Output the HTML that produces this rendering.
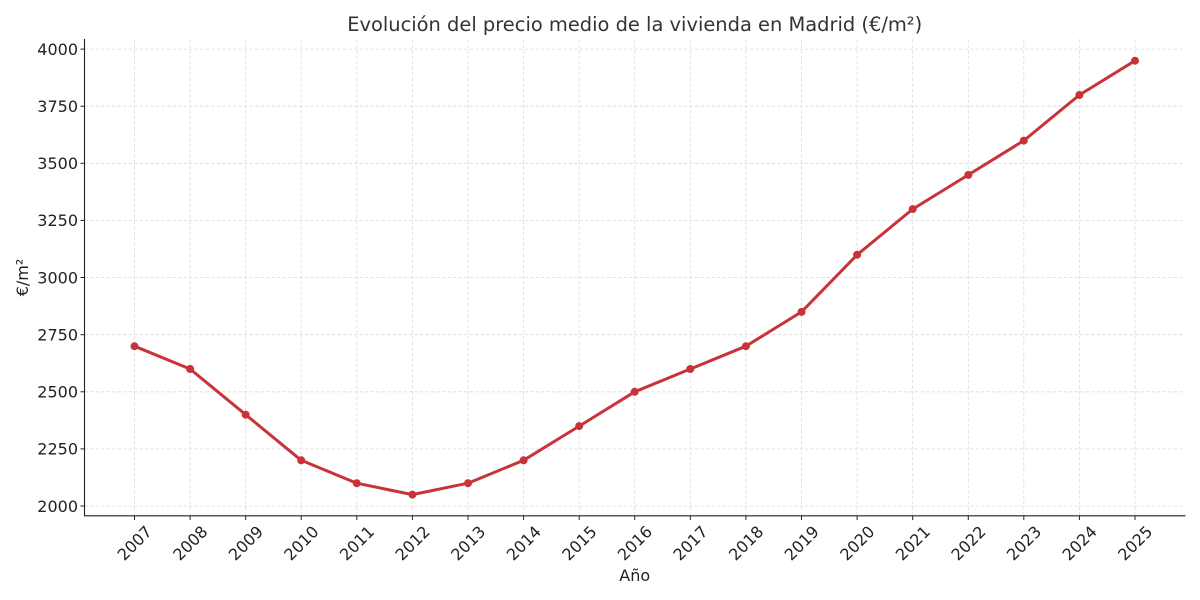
<!DOCTYPE html>
<html><head><meta charset="utf-8"><style>
html,body{margin:0;padding:0;background:#fff;}
svg{display:block;}
text{font-family:"DejaVu Sans","Liberation Sans",sans-serif;}
</style></head><body>
<svg width="1200" height="600" viewBox="0 0 1200 600" xmlns="http://www.w3.org/2000/svg">
<rect width="1200" height="600" fill="#fff"/>
<g stroke="#dcdcdc" stroke-width="0.8" stroke-dasharray="3.5,2" fill="none">
<line x1="84.5" x2="1185" y1="506" y2="506"/>
<line x1="84.5" x2="1185" y1="448.9" y2="448.9"/>
<line x1="84.5" x2="1185" y1="391.8" y2="391.8"/>
<line x1="84.5" x2="1185" y1="334.7" y2="334.7"/>
<line x1="84.5" x2="1185" y1="277.5" y2="277.5"/>
<line x1="84.5" x2="1185" y1="220.4" y2="220.4"/>
<line x1="84.5" x2="1185" y1="163.3" y2="163.3"/>
<line x1="84.5" x2="1185" y1="106.2" y2="106.2"/>
<line x1="84.5" x2="1185" y1="49.1" y2="49.1"/>
<line y1="39" y2="516" x1="134.5" x2="134.5"/>
<line y1="39" y2="516" x1="190.1" x2="190.1"/>
<line y1="39" y2="516" x1="245.7" x2="245.7"/>
<line y1="39" y2="516" x1="301.2" x2="301.2"/>
<line y1="39" y2="516" x1="356.8" x2="356.8"/>
<line y1="39" y2="516" x1="412.4" x2="412.4"/>
<line y1="39" y2="516" x1="468.0" x2="468.0"/>
<line y1="39" y2="516" x1="523.6" x2="523.6"/>
<line y1="39" y2="516" x1="579.2" x2="579.2"/>
<line y1="39" y2="516" x1="634.7" x2="634.7"/>
<line y1="39" y2="516" x1="690.3" x2="690.3"/>
<line y1="39" y2="516" x1="745.9" x2="745.9"/>
<line y1="39" y2="516" x1="801.5" x2="801.5"/>
<line y1="39" y2="516" x1="857.1" x2="857.1"/>
<line y1="39" y2="516" x1="912.7" x2="912.7"/>
<line y1="39" y2="516" x1="968.3" x2="968.3"/>
<line y1="39" y2="516" x1="1023.8" x2="1023.8"/>
<line y1="39" y2="516" x1="1079.4" x2="1079.4"/>
<line y1="39" y2="516" x1="1135.0" x2="1135.0"/>
</g>
<!-- spines -->
<g stroke="#222" stroke-width="1.1" fill="none">
<line x1="84.5" y1="39" x2="84.5" y2="516"/>
<line x1="84" y1="515.8" x2="1185.5" y2="515.8"/>
</g>
<!-- ticks -->
<g stroke="#222" stroke-width="1">
<line x1="80.5" x2="84.5" y1="506" y2="506"/>
<line x1="80.5" x2="84.5" y1="448.9" y2="448.9"/>
<line x1="80.5" x2="84.5" y1="391.8" y2="391.8"/>
<line x1="80.5" x2="84.5" y1="334.7" y2="334.7"/>
<line x1="80.5" x2="84.5" y1="277.5" y2="277.5"/>
<line x1="80.5" x2="84.5" y1="220.4" y2="220.4"/>
<line x1="80.5" x2="84.5" y1="163.3" y2="163.3"/>
<line x1="80.5" x2="84.5" y1="106.2" y2="106.2"/>
<line x1="80.5" x2="84.5" y1="49.1" y2="49.1"/>
<line y1="516" y2="520" x1="134.5" x2="134.5"/>
<line y1="516" y2="520" x1="190.1" x2="190.1"/>
<line y1="516" y2="520" x1="245.7" x2="245.7"/>
<line y1="516" y2="520" x1="301.2" x2="301.2"/>
<line y1="516" y2="520" x1="356.8" x2="356.8"/>
<line y1="516" y2="520" x1="412.4" x2="412.4"/>
<line y1="516" y2="520" x1="468.0" x2="468.0"/>
<line y1="516" y2="520" x1="523.6" x2="523.6"/>
<line y1="516" y2="520" x1="579.2" x2="579.2"/>
<line y1="516" y2="520" x1="634.7" x2="634.7"/>
<line y1="516" y2="520" x1="690.3" x2="690.3"/>
<line y1="516" y2="520" x1="745.9" x2="745.9"/>
<line y1="516" y2="520" x1="801.5" x2="801.5"/>
<line y1="516" y2="520" x1="857.1" x2="857.1"/>
<line y1="516" y2="520" x1="912.7" x2="912.7"/>
<line y1="516" y2="520" x1="968.3" x2="968.3"/>
<line y1="516" y2="520" x1="1023.8" x2="1023.8"/>
<line y1="516" y2="520" x1="1079.4" x2="1079.4"/>
<line y1="516" y2="520" x1="1135.0" x2="1135.0"/>
</g>
<!-- y tick labels -->
<g font-size="16" fill="#222" text-anchor="end">
<text x="78" y="511.8">2000</text>
<text x="78" y="454.7">2250</text>
<text x="78" y="397.6">2500</text>
<text x="78" y="340.5">2750</text>
<text x="78" y="283.3">3000</text>
<text x="78" y="226.2">3250</text>
<text x="78" y="169.1">3500</text>
<text x="78" y="112.0">3750</text>
<text x="78" y="54.9">4000</text>
</g>
<!-- x tick labels -->
<g font-size="16" fill="#222" text-anchor="middle">
<text transform="translate(134.5,543) rotate(-45)" y="5.8">2007</text>
<text transform="translate(190.1,543) rotate(-45)" y="5.8">2008</text>
<text transform="translate(245.7,543) rotate(-45)" y="5.8">2009</text>
<text transform="translate(301.2,543) rotate(-45)" y="5.8">2010</text>
<text transform="translate(356.8,543) rotate(-45)" y="5.8">2011</text>
<text transform="translate(412.4,543) rotate(-45)" y="5.8">2012</text>
<text transform="translate(468.0,543) rotate(-45)" y="5.8">2013</text>
<text transform="translate(523.6,543) rotate(-45)" y="5.8">2014</text>
<text transform="translate(579.2,543) rotate(-45)" y="5.8">2015</text>
<text transform="translate(634.7,543) rotate(-45)" y="5.8">2016</text>
<text transform="translate(690.3,543) rotate(-45)" y="5.8">2017</text>
<text transform="translate(745.9,543) rotate(-45)" y="5.8">2018</text>
<text transform="translate(801.5,543) rotate(-45)" y="5.8">2019</text>
<text transform="translate(857.1,543) rotate(-45)" y="5.8">2020</text>
<text transform="translate(912.7,543) rotate(-45)" y="5.8">2021</text>
<text transform="translate(968.3,543) rotate(-45)" y="5.8">2022</text>
<text transform="translate(1023.8,543) rotate(-45)" y="5.8">2023</text>
<text transform="translate(1079.4,543) rotate(-45)" y="5.8">2024</text>
<text transform="translate(1135.0,543) rotate(-45)" y="5.8">2025</text>
</g>
<!-- axis labels -->
<text x="634.7" y="581" font-size="16" fill="#222" text-anchor="middle">Año</text>
<text transform="translate(28,277.5) rotate(-90)" font-size="16" fill="#222" text-anchor="middle">€/m²</text>
<!-- title -->
<text x="634.7" y="31" font-size="19.5" fill="#333" text-anchor="middle" textLength="575" lengthAdjust="spacingAndGlyphs">Evolución del precio medio de la vivienda en Madrid (€/m²)</text>
<!-- series -->
<polyline fill="none" stroke="#c8333a" stroke-width="3" stroke-linejoin="round" stroke-linecap="round"
points="134.5,346.2 190.1,369.0 245.7,414.7 301.2,460.3 356.8,483.2 412.4,494.6 468.0,483.2 523.6,460.3 579.2,426.1 634.7,391.8 690.3,369.0 745.9,346.2 801.5,311.9 857.1,254.8 912.7,209.1 968.3,174.9 1023.8,140.6 1079.4,95.0 1135.0,60.7"/>
<g fill="#c8333a">
<circle cx="134.5" cy="346.2" r="4"/>
<circle cx="190.1" cy="369.0" r="4"/>
<circle cx="245.7" cy="414.7" r="4"/>
<circle cx="301.2" cy="460.3" r="4"/>
<circle cx="356.8" cy="483.2" r="4"/>
<circle cx="412.4" cy="494.6" r="4"/>
<circle cx="468.0" cy="483.2" r="4"/>
<circle cx="523.6" cy="460.3" r="4"/>
<circle cx="579.2" cy="426.1" r="4"/>
<circle cx="634.7" cy="391.8" r="4"/>
<circle cx="690.3" cy="369.0" r="4"/>
<circle cx="745.9" cy="346.2" r="4"/>
<circle cx="801.5" cy="311.9" r="4"/>
<circle cx="857.1" cy="254.8" r="4"/>
<circle cx="912.7" cy="209.1" r="4"/>
<circle cx="968.3" cy="174.9" r="4"/>
<circle cx="1023.8" cy="140.6" r="4"/>
<circle cx="1079.4" cy="95.0" r="4"/>
<circle cx="1135.0" cy="60.7" r="4"/>
</g>
</svg>
</body></html>
